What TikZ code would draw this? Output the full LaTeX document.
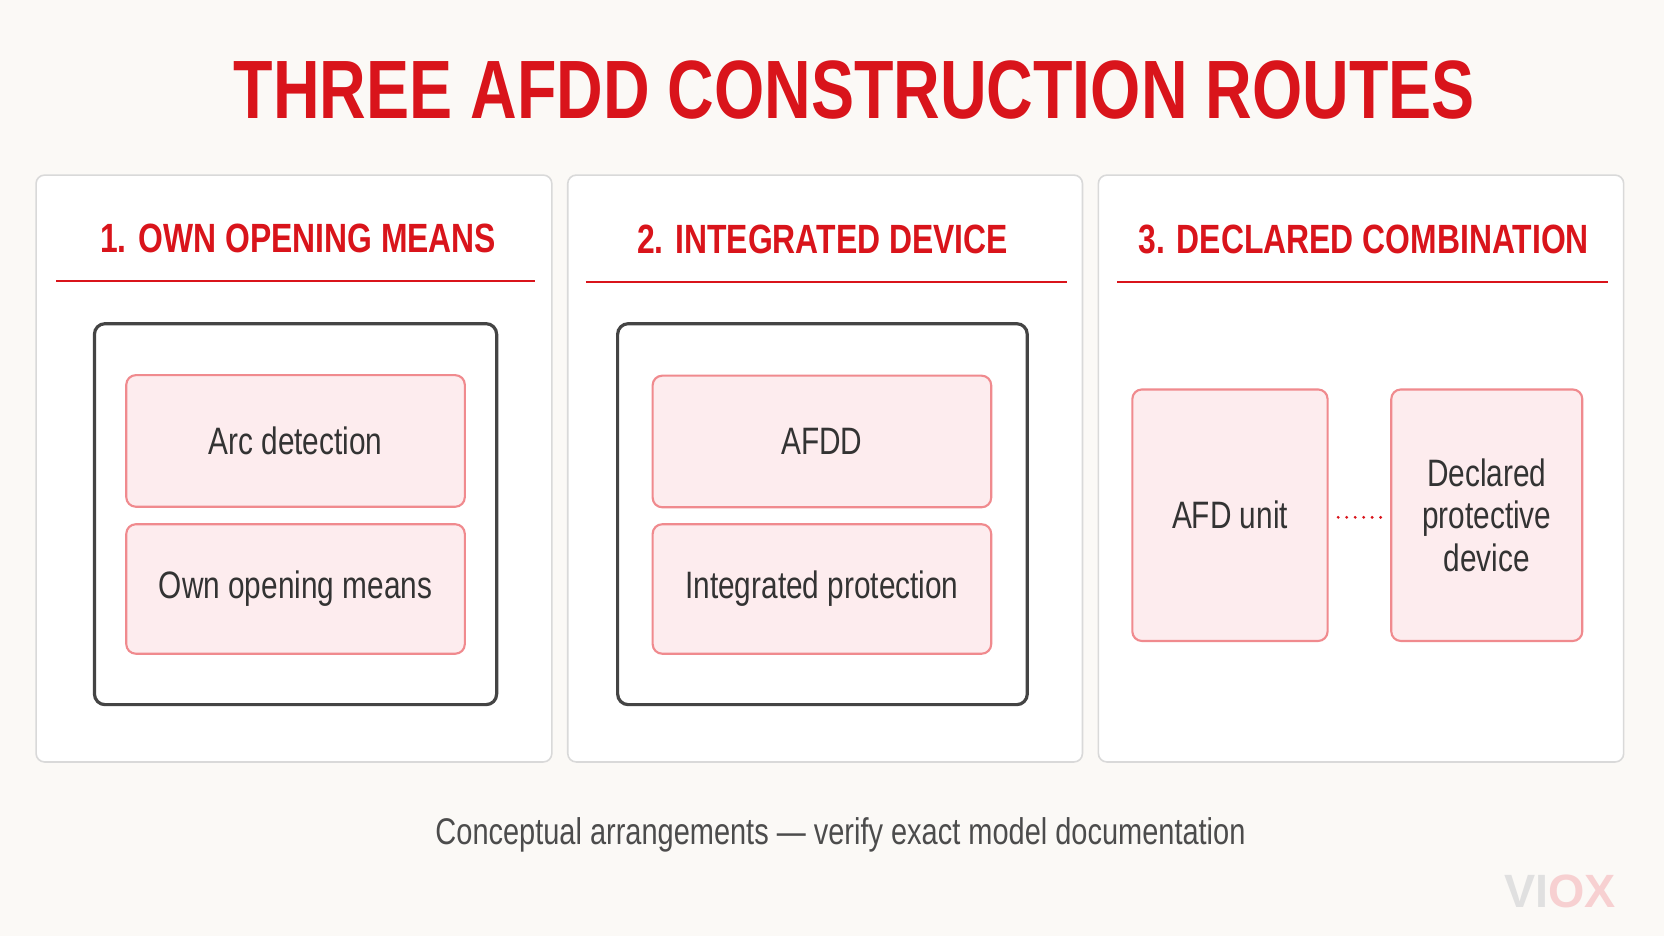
\documentclass[tikz,border=0pt]{standalone}
\usepackage{fontspec}
\setmainfont{Liberation Sans}
\newfontfamily\condfont[FakeStretch=0.78]{Liberation Sans}
\usetikzlibrary{positioning}
\definecolor{bgcol}{HTML}{FBF9F6}
\definecolor{voxred}{HTML}{D9141B}
\definecolor{pinkfill}{HTML}{FDECEE}
\definecolor{pinkline}{HTML}{F08A8E}
\definecolor{darkline}{HTML}{444444}
\tikzset{
  panel/.style={draw=black!15,fill=white,rounded corners=8pt,line width=1.5pt},
  holder/.style={draw=darkline,rounded corners=10pt,line width=3pt},
  part/.style={draw=pinkline,fill=pinkfill,rounded corners=9pt,line width=2pt,
    font=\condfont\fontsize{36}{40}\selectfont,text=black!80,align=center},
  head/.style={font=\condfont\bfseries\fontsize{38.5}{42}\selectfont,text=voxred},
  rule/.style={draw=voxred,line width=2pt}
}
\begin{document}
\begin{tikzpicture}[x=1pt,y=-1pt]
	\fill[bgcol] (0,0) rectangle (1568,882);
	\useasboundingbox (0,0) rectangle (1568,882);
	\node[font=\condfont\bfseries\fontsize{78}{84}\selectfont,text=voxred] (title) at (805,85) {THREE AFDD CONSTRUCTION ROUTES};
	% panels
	\draw[panel] (34,165) rectangle (520,718);
	\draw[panel] (535,165) rectangle (1020,718);
	\draw[panel] (1035,165) rectangle (1530,718);
	\node[head] (h1) at (281,225) {1. OWN OPENING MEANS};
	\node[head] (h2) at (775,226) {2. INTEGRATED DEVICE};
	\node[head] (h3) at (1285,226) {3. DECLARED COMBINATION};
	\draw[rule] (53,265) -- (504,265);
	\draw[rule] (552,266) -- (1005,266);
	\draw[rule] (1053,266) -- (1515,266);
	% route 1
	\draw[holder] (89,305) rectangle (468,664);
	\node[part,minimum width=319pt,minimum height=124pt] (arc) at (278.5,415.5) {Arc detection};
	\node[part,minimum width=319pt,minimum height=122pt] (open) at (278.5,555) {Own opening means};
	% route 2
	\draw[holder] (582,305) rectangle (968,664);
	\node[part,minimum width=319pt,minimum height=124pt] (afdd) at (774.5,416) {AFDD};
	\node[part,minimum width=319pt,minimum height=122pt] (integ) at (774.5,555) {Integrated protection};
	% route 3
	\node[part,minimum width=184pt,minimum height=237pt] (afd) at (1159,485.5) {AFD unit};
	\node[part,minimum width=180pt,minimum height=237pt] (decl) at (1401,485.5) {Declared\\protective\\device};
	\draw[voxred,line width=3pt,line cap=round,dash pattern=on 0pt off 8pt] (afd.east) ++(9pt,-2pt) -- ([xshift=-7pt,yshift=-2pt]decl.west);
	\node[font=\condfont\fontsize{35}{38}\selectfont,text=black!70] (note) at (792,787) {Conceptual arrangements — verify exact model documentation};
	\node[font=\bfseries\fontsize{44}{48}\selectfont,text=black!12] (logo) at (1470,840) {VI\textcolor{voxred!20}{OX}};
\end{tikzpicture}
\end{document}
